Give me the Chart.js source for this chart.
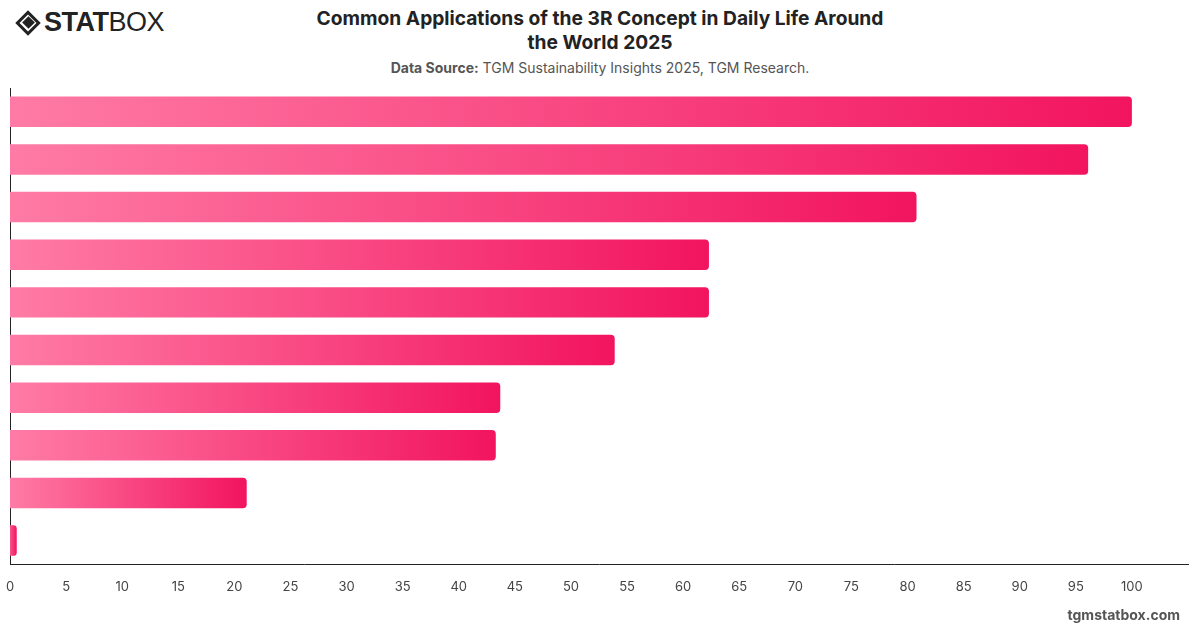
<!DOCTYPE html>
<html>
<head>
<meta charset="utf-8">
<script src="https://cdn.jsdelivr.net/npm/chart.js@4.4.1/dist/chart.umd.min.js"></script>
<style>
  html, body { margin: 0; padding: 0; background: #fff; font-family: Inter, "Liberation Sans", sans-serif; }
  #page { position: relative; width: 1200px; height: 628px; overflow: hidden; }
  .logo { position: absolute; left: 15px; top: 7px; display: flex; align-items: center; gap: 3px; color: #222; }
  .logo .mark { width: 26px; height: 26px; position: relative; }
  .logo .mark::before { content: ''; position: absolute; left: 4px; top: 4px; width: 18px; height: 18px; border: 3px solid #222; transform: rotate(45deg); box-sizing: border-box; }
  .logo .mark::after { content: ''; position: absolute; left: 8.5px; top: 8.5px; width: 9px; height: 9px; background: #222; transform: rotate(45deg); }
  .logo .txt { font-family: "Liberation Sans", sans-serif; font-size: 27px; letter-spacing: -0.5px; }
  .logo .txt b { font-weight: 900; }
  .logo .txt span { font-weight: 300; }
  .title { position: absolute; left: 300px; width: 600px; top: 6px; text-align: center; font-size: 19.2px; font-weight: 700; color: #222; line-height: 24px; }
  .source { position: absolute; left: 300px; width: 600px; top: 59px; text-align: center; font-size: 14px; color: #555; }
  .source b { font-weight: 700; }
  .footer { position: absolute; right: 20px; top: 606px; font-size: 14px; font-weight: 700; color: #555; }
  #wrap { position: absolute; left: 0; top: 88px; width: 1200px; height: 522px; }
</style>
</head>
<body>
<div id="page">
  <div class="logo"><div class="mark"></div><div class="txt"><b>STAT</b><span>BOX</span></div></div>
  <div class="title">Common Applications of the 3R Concept in Daily Life Around<br>the World 2025</div>
  <div class="source"><b>Data Source:</b> TGM Sustainability Insights 2025, TGM Research.</div>
  <div id="wrap"><canvas id="chart"></canvas></div>
  <div class="footer">tgmstatbox.com</div>
</div>
<script>
// category names are not printed on the reference, only the bars
const categories = ['1', '2', '3', '4', '5', '6', '7', '8', '9', '10'];
const values = [100, 96.1, 80.8, 62.3, 62.3, 53.9, 43.7, 43.3, 21.1, 0.6];
const xTicks = [0, 5, 10, 15, 20, 25, 30, 35, 40, 45, 50, 55, 60, 65, 70, 75, 80, 85, 90, 95, 100];

const lightPink = '#ff7ba6';
const deepPink = '#f2145f';

function barGradient(context) {
  const chart = context.chart;
  const { ctx, chartArea, scales } = chart;
  if (!chartArea) return deepPink;
  const v = context.raw;
  const x0 = scales.x.getPixelForValue(0);
  const x1 = Math.max(scales.x.getPixelForValue(v), x0 + 1);
  const g = ctx.createLinearGradient(x0, 0, x1, 0);
  g.addColorStop(0, v < 5 ? '#f8538a' : lightPink);
  g.addColorStop(1, deepPink);
  return g;
}

new Chart(document.getElementById('chart'), {
  type: 'bar',
  data: {
    labels: categories,
    datasets: [{
      data: values,
      backgroundColor: barGradient,
      borderRadius: 4,
      borderSkipped: 'start',
      categoryPercentage: 0.8,
      barPercentage: 0.8
    }]
  },
  options: {
    indexAxis: 'y',
    responsive: true,
    maintainAspectRatio: false,
    animation: false,
    layout: { padding: { left: 10, right: 12, top: 0, bottom: 0 } },
    plugins: { legend: { display: false }, tooltip: { enabled: false } },
    scales: {
      x: {
        min: 0,
        max: 105,
        afterBuildTicks: axis => { axis.ticks = xTicks.map(v => ({ value: v })); },
        afterFit: s => { s.paddingLeft = 0; s.paddingRight = 0; },
        grid: { display: false, drawTicks: false },
        border: { display: true, color: '#222', width: 1 },
        ticks: { color: '#444', font: { family: 'Inter', size: 13 }, padding: 15 }
      },
      y: {
        afterFit: s => { s.width = 0; },
        grid: { display: false, drawTicks: false },
        border: { display: true, color: '#222', width: 1 },
        ticks: { display: false }
      }
    }
  }
});
</script>
</body>
</html>
